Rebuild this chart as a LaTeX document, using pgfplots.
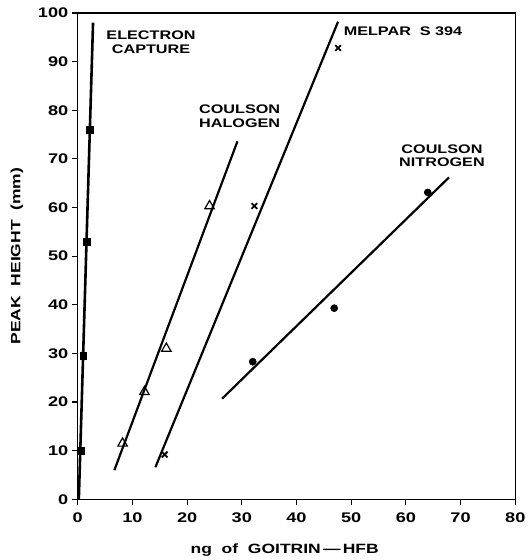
\documentclass[border=0pt]{standalone}
\usepackage{pgfplots}
\pgfplotsset{compat=1.18}
\usepackage{fontspec}
\setmainfont{Liberation Sans}[BoldFeatures={FakeStretch=1.3}]
\usetikzlibrary{calc}
\begin{document}
\begin{tikzpicture}
\begin{axis}[
  scale only axis, width=439pt, height=488pt,
  xmin=0, xmax=80, ymin=0, ymax=100,
  xtick={0,10,...,80}, ytick={0,10,...,100},
  tick pos=left, tick align=outside,
  major tick length=6pt,
  axis line style={line width=1.5pt},
  every tick/.style={line width=1.2pt, black},
  /pgf/number format/assume math mode=true,
  ticklabel style={font=\fontsize{14}{14}\selectfont\bfseries},
  xticklabel style={yshift=-4pt},
  xlabel={ng \ of \ GOITRIN\,---\,HFB},
  ylabel={PEAK \ HEIGHT \ (mm)},
  label style={font=\fontsize{13.5}{14}\selectfont\bfseries},
  xlabel style={at={(axis description cs:0.473,-0.105)}, anchor=center},
  ylabel style={at={(axis description cs:-0.139,0.5)}, anchor=center},
  clip=false,
]
% Electron capture
\addplot[black, line width=2.6pt] coordinates {(0.2,0) (2.8,98)};
\addplot[only marks, mark=square*, mark size=3.5pt, black] coordinates {(0.5,10) (1.0,29.5) (1.6,53) (2.2,76)};
% Coulson halogen
\addplot[black, line width=2.2pt] coordinates {(6.7,6) (29.2,73.6)};
\addplot[only marks, mark=triangle, mark size=5.5pt, black, line width=1.2pt] coordinates {(8.2,11.5) (12.2,22.1) (16.2,31) (24.1,60.3)};
% Melpar S 394
\addplot[black, line width=2.2pt] coordinates {(14.2,6.6) (47.6,98.2)};
\addplot[only marks, mark=x, mark size=4pt, black, line width=1.8pt] coordinates {(15.9,9.2) (32.3,60.3) (47.6,92.8)};
% Coulson nitrogen
\addplot[black, line width=2.2pt] coordinates {(26.4,20.7) (67.9,66.2)};
\addplot[only marks, mark=*, mark size=3.6pt, black] coordinates {(32,28.3) (46.9,39.3) (64,63.1)};
% labels
\node[font=\fontsize{12.5}{13.5}\selectfont\bfseries, align=center] at (axis cs:13.4,94) {ELECTRON\\CAPTURE};
\node[font=\fontsize{12.5}{13.5}\selectfont\bfseries, align=center] at (axis cs:29.6,78.8) {COULSON\\HALOGEN};
\node[font=\fontsize{12.5}{13.5}\selectfont\bfseries, anchor=west] at (axis cs:48.0,96.2) {MELPAR\ \ S 394};
\node[font=\fontsize{12.5}{13.5}\selectfont\bfseries, align=center] at (axis cs:66.6,70.6) {COULSON\\NITROGEN};
\end{axis}
\path ($(current axis.south west)+(-78pt,-59pt)$) rectangle ($(current axis.north east)+(10pt,13pt)$);
\end{tikzpicture}
\end{document}
